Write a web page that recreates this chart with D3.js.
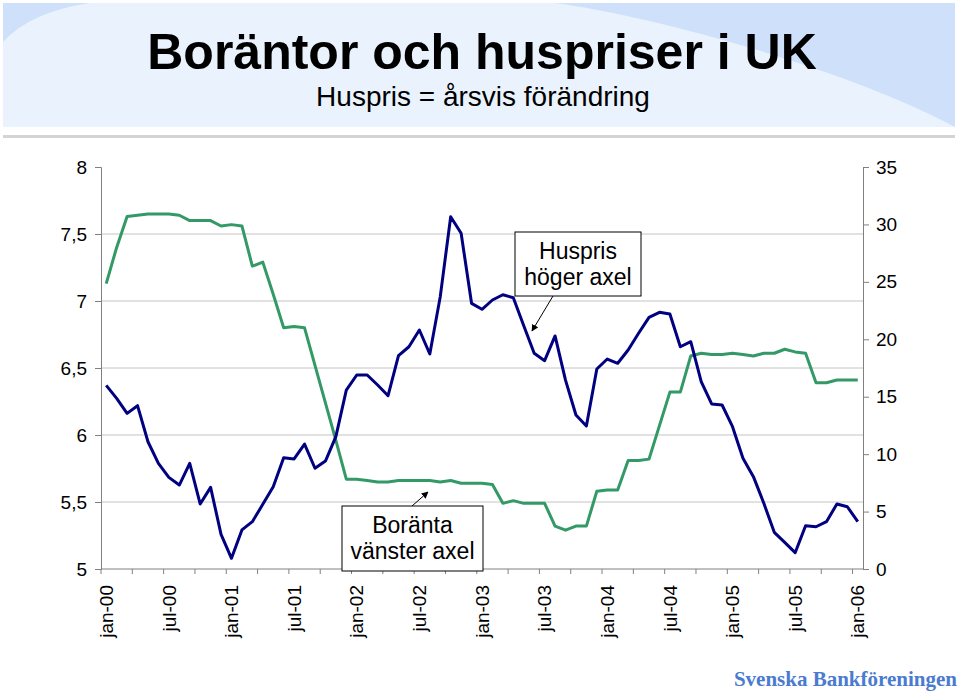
<!DOCTYPE html>
<html>
<head>
<meta charset="utf-8">
<script src="https://cdn.jsdelivr.net/npm/d3@7"></script>
<style>
  body { margin: 0; background: #fff; }
  text { font-family: Arial, "Liberation Sans", sans-serif; }
</style>
</head>
<body>
<div id="chart"></div>
<script>
// month categories jan-00 .. jan-06
var monthNames = ["jan", "feb", "mar", "apr", "maj", "jun", "jul", "aug", "sep", "okt", "nov", "dec"];
var years = ["00", "01", "02", "03", "04", "05", "06"];
var months = [];
years.forEach(function(y) {
  monthNames.forEach(function(m) { months.push(m + "-" + y); });
});
months = months.slice(0, 73);

// tick labels shown on the x axis
var xLabels = ["jan-00", "jul-00", "jan-01", "jul-01", "jan-02", "jul-02", "jan-03",
               "jul-03", "jan-04", "jul-04", "jan-05", "jul-05", "jan-06"];

// Boränta (left axis, %)
var boranta = [7.13, 7.40, 7.63, 7.64, 7.65, 7.65, 7.65, 7.64, 7.60, 7.60, 7.60, 7.56,
               7.57, 7.56, 7.26, 7.29, 7.05, 6.80, 6.81, 6.80, 6.52, 6.24, 5.96, 5.67,
               5.67, 5.66, 5.65, 5.65, 5.66, 5.66, 5.66, 5.66, 5.65, 5.66, 5.64, 5.64,
               5.64, 5.63, 5.49, 5.51, 5.49, 5.49, 5.49, 5.32, 5.29, 5.32, 5.32, 5.58,
               5.59, 5.59, 5.81, 5.81, 5.82, 6.07, 6.32, 6.32, 6.59, 6.61, 6.60, 6.60,
               6.61, 6.60, 6.59, 6.61, 6.61, 6.64, 6.62, 6.61, 6.39, 6.39, 6.41, 6.41, 6.41];

// Huspris, årsvis förändring (right axis, %)
var huspris = [15.99, 14.86, 13.55, 14.22, 11.08, 9.20, 7.98, 7.31, 9.20, 5.66, 7.11, 3.02,
               0.93, 3.40, 4.12, 5.63, 7.17, 9.69, 9.58, 10.88, 8.77, 9.40, 11.52, 15.58,
               16.89, 16.89, 16.02, 15.09, 18.57, 19.35, 20.81, 18.72, 23.71, 30.67, 29.23, 23.13,
               22.61, 23.42, 23.88, 23.62, 21.18, 18.78, 18.14, 20.29, 16.45, 13.41, 12.45, 17.41,
               18.28, 17.91, 19.07, 20.52, 21.91, 22.35, 22.20, 19.35, 19.79, 16.31, 14.37, 14.28,
               12.39, 9.64, 8.04, 5.72, 3.19, 2.32, 1.42, 3.77, 3.68, 4.12, 5.66, 5.42, 4.12];

var leftTicks = [5, 5.5, 6, 6.5, 7, 7.5, 8];
var rightTicks = [0, 5, 10, 15, 20, 25, 30, 35];

var width = 960, height = 694;
var plot = {left: 101, right: 863, top: 167, bottom: 569};
var tickFont = "19px";

var svg = d3.select("#chart").append("svg")
    .attr("width", width)
    .attr("height", height);

// header band
var defs = svg.append("defs");
defs.append("clipPath").attr("id", "hdr")
  .append("rect").attr("x", 3).attr("y", 3).attr("width", 952).attr("height", 124);
var hdr = svg.append("g").attr("clip-path", "url(#hdr)");
hdr.append("rect").attr("x", 3).attr("y", 3).attr("width", 952).attr("height", 124)
    .attr("fill", "#cfe1fa");
hdr.append("path")
    .attr("d", "M3,42 Q30,12 90,3 L554,3 C650,15 850,70 955,127 L3,127 Z")
    .attr("fill", "#eaf3fd");
svg.append("rect").attr("x", 3).attr("y", 135).attr("width", 952).attr("height", 3)
    .attr("fill", "#d4d4d4");

svg.append("text")
    .attr("x", 482).attr("y", 69)
    .attr("text-anchor", "middle")
    .style("font-size", "50px").style("font-weight", "bold")
    .text("Boräntor och huspriser i UK");
svg.append("text")
    .attr("x", 483).attr("y", 106)
    .attr("text-anchor", "middle")
    .style("font-size", "28px")
    .text("Huspris = årsvis förändring");

// scales
var x = d3.scaleBand().domain(months).range([plot.left, plot.right]).padding(0);
var yL = d3.scaleLinear().domain([5, 8]).range([plot.bottom, plot.top]);
var yR = d3.scaleLinear().domain([0, 35]).range([plot.bottom, plot.top]);
var cx = function(d) { return x(d) + x.bandwidth() / 2; };

// gridlines
svg.append("g").selectAll("line")
  .data(leftTicks.filter(function(d) { return d > 5 && d < 8; }))
  .enter().append("line")
    .attr("x1", plot.left).attr("x2", plot.right)
    .attr("y1", function(d) { return yL(d); })
    .attr("y2", function(d) { return yL(d); })
    .attr("stroke", "#c4c4c4").attr("stroke-width", 1);

// left axis
var gL = svg.append("g")
    .attr("transform", "translate(" + plot.left + ",0)")
    .call(d3.axisLeft(yL).tickValues(leftTicks).tickSize(6).tickPadding(8)
      .tickFormat(function(d) { return String(d).replace(".", ","); }));
gL.select(".domain").attr("stroke", "#808080");
gL.selectAll(".tick line").attr("stroke", "#808080");
gL.selectAll("text").style("font-size", tickFont).attr("fill", "#000")
    .style("font-family", "Arial, 'Liberation Sans', sans-serif");

// right axis
var gR = svg.append("g")
    .attr("transform", "translate(" + plot.right + ",0)")
    .call(d3.axisRight(yR).tickValues(rightTicks).tickSizeInner(6).tickSizeOuter(0).tickPadding(7));
gR.select(".domain").attr("stroke", "#808080");
gR.selectAll(".tick line").attr("stroke", "#808080");
gR.selectAll("text").style("font-size", tickFont).attr("fill", "#000")
    .style("font-family", "Arial, 'Liberation Sans', sans-serif");

// bottom axis: line, tick marks every 3 months, labels every 6 months
svg.append("line")
    .attr("x1", plot.left).attr("x2", plot.right)
    .attr("y1", plot.bottom).attr("y2", plot.bottom)
    .attr("stroke", "#808080");
svg.append("g").selectAll("line")
  .data(months.filter(function(d, i) { return i % 3 === 0; }))
  .enter().append("line")
    .attr("x1", function(d) { return x(d); })
    .attr("x2", function(d) { return x(d); })
    .attr("y1", plot.bottom).attr("y2", plot.bottom + 5)
    .attr("stroke", "#808080");
var gX = svg.append("g")
    .attr("transform", "translate(0," + plot.bottom + ")")
    .call(d3.axisBottom(x).tickValues(xLabels).tickSize(0));
gX.select(".domain").remove();
gX.selectAll("text")
    .style("font-size", tickFont).attr("fill", "#000")
    .style("font-family", "Arial, 'Liberation Sans', sans-serif")
    .attr("text-anchor", "end")
    .attr("transform", "translate(0,16) rotate(-90)")
    .attr("x", 0).attr("y", 0).attr("dy", "0.35em");

// lines
var lineL = d3.line().x(function(d, i) { return cx(months[i]); }).y(function(d) { return yL(d); });
var lineR = d3.line().x(function(d, i) { return cx(months[i]); }).y(function(d) { return yR(d); });

svg.append("path").datum(boranta)
    .attr("d", lineL).attr("fill", "none")
    .attr("stroke", "#339966").attr("stroke-width", 3).attr("stroke-linejoin", "round");
svg.append("path").datum(huspris)
    .attr("d", lineR).attr("fill", "none")
    .attr("stroke", "#000080").attr("stroke-width", 3).attr("stroke-linejoin", "round");

// annotations
defs.append("marker").attr("id", "arr")
    .attr("viewBox", "0 0 10 10").attr("refX", 9).attr("refY", 5)
    .attr("markerWidth", 7).attr("markerHeight", 7).attr("orient", "auto")
  .append("path").attr("d", "M0,0 L10,5 L0,10 Z").attr("fill", "#000");

function note(bx, by, bw, bh, lines, ax1, ay1, ax2, ay2) {
  var g = svg.append("g");
  g.append("line").attr("x1", ax1).attr("y1", ay1).attr("x2", ax2).attr("y2", ay2)
      .attr("stroke", "#000").attr("stroke-width", 1).attr("marker-end", "url(#arr)");
  g.append("rect").attr("x", bx).attr("y", by).attr("width", bw).attr("height", bh)
      .attr("fill", "#fff").attr("stroke", "#000").attr("stroke-width", 1);
  lines.forEach(function(t, i) {
    g.append("text").attr("x", bx + bw / 2).attr("y", by + 27 + i * 26)
        .attr("text-anchor", "middle").style("font-size", "23px").text(t);
  });
}
note(515, 232, 126, 64, ["Huspris", "höger axel"], 553, 296, 532, 331);
note(342, 506, 141, 65, ["Boränta", "vänster axel"], 412, 506, 428, 492);

svg.append("text")
    .attr("x", 957).attr("y", 686)
    .attr("text-anchor", "end")
    .style("font-family", "'Liberation Serif', 'DejaVu Serif', serif")
    .style("font-size", "21px").style("font-weight", "bold")
    .attr("fill", "#4a7bd0")
    .text("Svenska Bankföreningen");
</script>
</body>
</html>
